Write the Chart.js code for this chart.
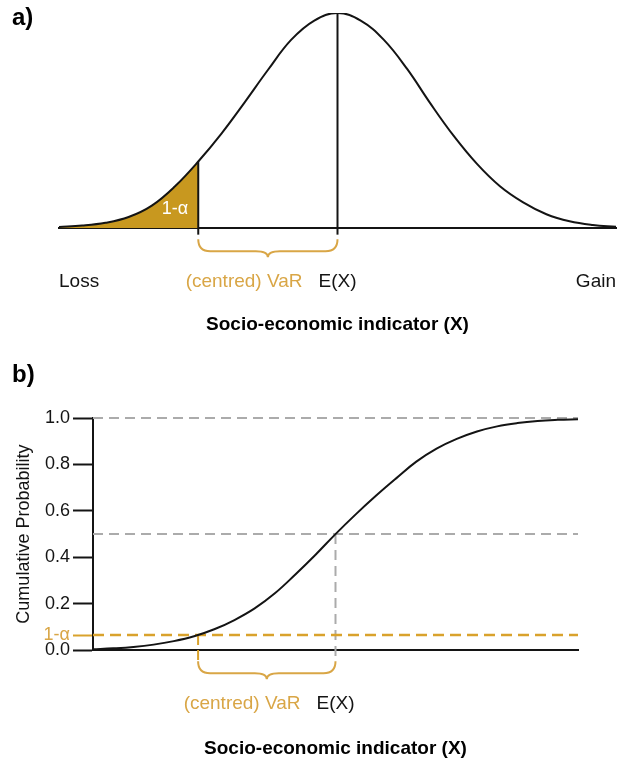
<!DOCTYPE html>
<html>
<head>
<meta charset="utf-8">
<script src="https://cdn.jsdelivr.net/npm/chart.js@4.4.1/dist/chart.umd.min.js"></script>
<style>
body { margin: 0; background: #fff; }
canvas { display: block; }
</style>
</head>
<body>
<canvas id="pdfChart" width="627" height="340"></canvas>
<canvas id="cdfChart" width="627" height="423"></canvas>
<script>
// x in standard deviations from the mean
var xs = [-3, -2.75, -2.5, -2.25, -2, -1.75, -1.5, -1.25, -1, -0.75, -0.5, -0.25, 0,
          0.25, 0.5, 0.75, 1, 1.25, 1.5, 1.75, 2, 2.25, 2.5, 2.75, 3];
// panel a: density, relative to the peak
var density = [0.006, 0.012, 0.025, 0.052, 0.105, 0.195, 0.31, 0.44, 0.585, 0.735, 0.875, 0.965, 1,
               0.965, 0.875, 0.74, 0.58, 0.43, 0.3, 0.195, 0.12, 0.065, 0.032, 0.015, 0.007];
// panel b: cumulative probability
var cumulative = [0.004, 0.008, 0.014, 0.024, 0.039, 0.06, 0.09, 0.13, 0.18, 0.245, 0.325, 0.41, 0.5,
                  0.585, 0.665, 0.74, 0.812, 0.868, 0.91, 0.942, 0.964, 0.978, 0.987, 0.992, 0.995];
var yTicks = [0, 0.2, 0.4, 0.6, 0.8, 1.0];
var varA = -1.5;       // VaR cut in panel a
var varB = -1.7;       // VaR cut in panel b
var alphaLevel = 0.065;
var tailCount = 7;     // points from -3 up to the VaR cut

var FAM = '"Liberation Sans", Arial, Helvetica, sans-serif';
var INK = '#141414';
var GOLD_FILL = '#C8981F';
var GOLD_LINE = '#D9A22C';
var GOLD_TEXT = '#D9A646';
var GREY = '#ABABAB';

Chart.defaults.font.family = FAM;
Chart.defaults.color = INK;

function pts(xv, yv) {
	var out = [];
	for (var i = 0; i < xv.length; i++) out.push({x: xv[i], y: yv[i]});
	return out;
}

function seg(data, color, width, dash, order) {
	return {
		data: data, borderColor: color, borderWidth: width, borderDash: dash || [],
		pointRadius: 0, fill: false, clip: false, order: order, tension: 0
	};
}

function curve(data, order) {
	return {
		data: data, borderColor: INK, borderWidth: 2, pointRadius: 0,
		fill: false, order: order, tension: 0.4
	};
}

function brace(ctx, x1, x2, base) {
	var y0 = base + 11, y1 = base + 23, y2 = base + 29, xm = (x1 + x2) / 2, r = 12;
	ctx.save();
	ctx.strokeStyle = GOLD_TEXT;
	ctx.lineWidth = 2;
	ctx.beginPath();
	ctx.moveTo(x1, y0);
	ctx.quadraticCurveTo(x1, y1, x1 + r, y1);
	ctx.lineTo(xm - r, y1);
	ctx.quadraticCurveTo(xm, y1, xm, y2);
	ctx.quadraticCurveTo(xm, y1, xm + r, y1);
	ctx.lineTo(x2 - r, y1);
	ctx.quadraticCurveTo(x2, y1, x2, y0);
	ctx.stroke();
	ctx.restore();
}

function labels(chart, cut, letter, letterY) {
	var ctx = chart.ctx, a = chart.chartArea, x = chart.scales.x;
	var mean = x.getPixelForValue(0), base = a.bottom, ty = base + 54;
	ctx.save();
	ctx.textBaseline = 'middle';
	ctx.font = '19px ' + FAM;
	ctx.fillStyle = INK;
	ctx.textAlign = 'center';
	ctx.fillText('E(X)', mean, ty);
	ctx.fillStyle = GOLD_TEXT;
	ctx.textAlign = 'right';
	ctx.fillText('(centred) VaR', mean - 35, ty);
	ctx.font = 'bold 24px ' + FAM;
	ctx.fillStyle = '#000';
	ctx.textAlign = 'left';
	ctx.fillText(letter, 12, letterY);
	ctx.restore();
	brace(ctx, x.getPixelForValue(cut), mean, base);
}

var plainX = {
	type: 'linear', min: -3, max: 3,
	grid: {display: false, drawTicks: false},
	ticks: {display: false},
	border: {display: true, color: INK, width: 2}
};

// ---- panel a : density ----
new Chart(document.getElementById('pdfChart'), {
	type: 'line',
	data: {
		datasets: [
			curve(pts(xs, density), 0),
			seg([{x: 0, y: -0.03}, {x: 0, y: density[12]}], INK, 2, null, 1),
			seg([{x: varA, y: -0.03}, {x: varA, y: density[tailCount - 1]}], INK, 2, null, 1),
			{
				data: pts(xs.slice(0, tailCount), density.slice(0, tailCount)),
				borderWidth: 0, pointRadius: 0, fill: 'origin', tension: 0.4,
				backgroundColor: GOLD_FILL, order: 5
			}
		]
	},
	options: {
		responsive: false, animation: false,
		layout: {padding: {left: 59, right: 11, top: 13, bottom: 0}},
		plugins: {legend: {display: false}, tooltip: {enabled: false}},
		scales: {
			x: Object.assign({}, plainX, {
				title: {display: true, text: 'Socio-economic indicator (X)',
					font: {size: 19, weight: 'bold'}, color: '#000', padding: {top: 85, bottom: 4}}
			}),
			y: {display: false, min: 0, max: 1}
		}
	},
	plugins: [{
		id: 'notesA',
		afterDraw: function (chart) {
			var ctx = chart.ctx, a = chart.chartArea, x = chart.scales.x;
			labels(chart, varA, 'a)', 18);
			ctx.save();
			ctx.textBaseline = 'middle';
			ctx.font = '19px ' + FAM;
			ctx.fillStyle = INK;
			ctx.textAlign = 'left';
			ctx.fillText('Loss', a.left, a.bottom + 54);
			ctx.textAlign = 'right';
			ctx.fillText('Gain', a.right, a.bottom + 54);
			ctx.font = '18px ' + FAM;
			ctx.fillStyle = '#fff';
			ctx.fillText('1-\u03b1', x.getPixelForValue(varA) - 10, a.bottom - 19);
			ctx.restore();
		}
	}]
});

// ---- panel b : cumulative ----
new Chart(document.getElementById('cdfChart'), {
	type: 'line',
	data: {
		datasets: [
			curve(pts(xs, cumulative), 0),
			seg([{x: -3, y: 1}, {x: 3, y: 1}], GREY, 2, [10, 6], 2),
			seg([{x: -3, y: 0.5}, {x: 3, y: 0.5}], GREY, 2, [10, 6], 2),
			seg([{x: 0, y: 0.5}, {x: 0, y: -0.05}], GREY, 2, [10, 6], 2),
			seg([{x: -3, y: alphaLevel}, {x: 3, y: alphaLevel}], GOLD_LINE, 2.5, [11, 6], 1),
			seg([{x: varB, y: alphaLevel}, {x: varB, y: -0.045}], GOLD_LINE, 2, [10, 5], 1)
		]
	},
	options: {
		responsive: false, animation: false,
		layout: {padding: {left: 7, right: 49, top: 78, bottom: 0}},
		plugins: {legend: {display: false}, tooltip: {enabled: false}},
		scales: {
			x: Object.assign({}, plainX, {
				title: {display: true, text: 'Socio-economic indicator (X)',
					font: {size: 19, weight: 'bold'}, color: '#000', padding: {top: 87, bottom: 3}}
			}),
			y: {
				type: 'linear', min: 0, max: 1,
				afterBuildTicks: function (s) {
					s.ticks = yTicks.concat([alphaLevel]).sort(function (p, q) { return p - q; })
						.map(function (v) { return {value: v}; });
				},
				afterFit: function (s) { s.width = 86; },
				border: {display: true, color: INK, width: 2},
				grid: {
					drawOnChartArea: false, drawTicks: true, tickLength: 20, tickWidth: 2,
					tickColor: function (c) { return c.tick && c.tick.value === alphaLevel ? GOLD_LINE : INK; }
				},
				ticks: {
					autoSkip: false, padding: 3, font: {size: 18},
					color: function (c) { return c.tick && c.tick.value === alphaLevel ? GOLD_TEXT : INK; },
					callback: function (v) { return v === alphaLevel ? '1-\u03b1' : v.toFixed(1); }
				},
				title: {display: true, text: 'Cumulative Probability', font: {size: 18},
					padding: {top: 6, bottom: 4}}
			}
		}
	},
	plugins: [{
		id: 'notesB',
		afterDraw: function (chart) { labels(chart, varB, 'b)', 35); }
	}]
});
</script>
</body>
</html>
